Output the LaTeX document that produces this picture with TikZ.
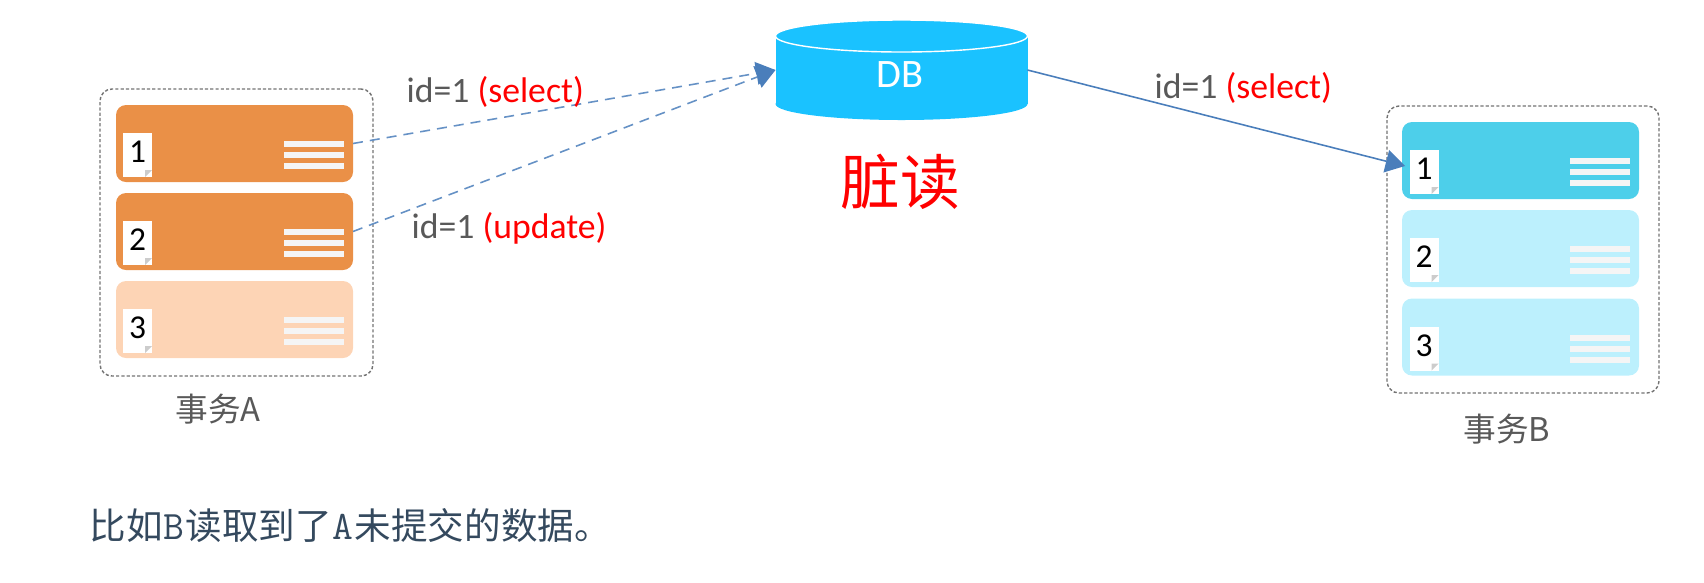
\documentclass[tikz,border=0pt]{standalone}
\usepackage{fontspec}
\setmainfont{Carlito}
\newfontfamily\cjk{Noto Sans CJK SC}
\usepackage{tikz}
\usetikzlibrary{positioning,calc,arrows.meta,shapes.geometric}
\usepackage{xcolor}
\definecolor{cardA}{HTML}{EA9047}
\definecolor{cardAlt}{HTML}{FDD4B5}
\definecolor{cardB}{HTML}{4DCFEA}
\definecolor{cardBlt}{HTML}{BCF0FD}
\definecolor{dbblue}{HTML}{1AC2FF}
\definecolor{linkblue}{HTML}{4A7EBB}
\definecolor{txtgrey}{HTML}{595959}
\definecolor{txtnavy}{HTML}{34495E}
\newcommand{\footlat}[1]{\kern.3pt{\ttfamily\fontsize{11.5}{12}\selectfont #1}\kern.3pt}

\begin{document}
\begin{tikzpicture}[
  >={Triangle[length=5.5pt,width=6.5pt,color=linkblue]},
  card/.style={rounded corners=1mm, minimum width=23.7mm, minimum height=7.7mm, inner sep=0pt, outer sep=0pt},
  txbox/.style={draw=black!55, rounded corners=1.2mm, line width=.4pt, dash pattern=on .9pt off .6pt,
                minimum width=27.3mm, minimum height=28.7mm, inner sep=0pt},
  notepg/.style={fill=white, minimum width=2.9mm, minimum height=4.4mm, inner sep=0pt, text=black,
                 text depth=.6mm, font=\fontsize{9.5}{12}\selectfont,
                 path picture={\fill[black!20] ($(path picture bounding box.south east)+(-.7mm,0)$) --
                   ($(path picture bounding box.south east)+(0,.7mm)$) --
                   ($(path picture bounding box.south east)+(-.7mm,.7mm)$) -- cycle;}},
  bars/.style={minimum width=6mm, minimum height=2.8mm, inner sep=0pt,
               path picture={
                 \fill[black!4] (path picture bounding box.north west) rectangle +(6mm,-.6mm);
                 \fill[black!4] ($(path picture bounding box.west)+(0,.3mm)$) rectangle +(6mm,-.6mm);
                 \fill[black!4] (path picture bounding box.south west) rectangle +(6mm,.6mm);}},
  lbl/.style={text=txtgrey, font=\fontsize{10.15}{12}\selectfont, inner sep=0pt},
  caplbl/.style={text=txtgrey, font=\cjk\fontsize{9.3}{11}\selectfont, inner sep=0pt},
  fl/.style={->, linkblue, line width=.45pt},
  fldash/.style={fl, linkblue!85, dash pattern=on 2.85pt off 2pt},
]
  \useasboundingbox (0,0) rectangle (17.04,5.82);

  %=================== transaction A ===================
  \node[txbox] (boxa) at (2.365,3.495) {};
  \node[card, fill=cardA] (a1) at (2.345,4.385) {};
  \node[card, fill=cardA] (a2) at (2.345,3.505) {};
  \node[card, fill=cardAlt] (a3) at (2.345,2.625) {};
  \node[notepg] (a1pg) at ($(a1)+(-.97,-.115)$) {1};
  \node[notepg] (a2pg) at ($(a2)+(-.97,-.115)$) {2};
  \node[notepg] (a3pg) at ($(a3)+(-.97,-.115)$) {3};
  \node[bars] (a1bar) at ($(a1)+(.795,-.115)$) {};
  \node[bars] (a2bar) at ($(a2)+(.795,-.115)$) {};
  \node[bars] (a3bar) at ($(a3)+(.795,-.115)$) {};
  \node[caplbl] (capa) at (2.18,1.73) {事务A};

  %=================== transaction B ===================
  \node[txbox, minimum width=27.2mm] (boxb) at (15.23,3.325) {};
  \node[card, fill=cardB] (b1) at (15.205,4.215) {};
  \node[card, fill=cardBlt] (b2) at (15.205,3.335) {};
  \node[card, fill=cardBlt] (b3) at (15.205,2.45) {};
  \node[notepg] (b1pg) at ($(b1)+(-.965,-.115)$) {1};
  \node[notepg] (b2pg) at ($(b2)+(-.965,-.115)$) {2};
  \node[notepg] (b3pg) at ($(b3)+(-.965,-.115)$) {3};
  \node[bars] (b1bar) at ($(b1)+(.795,-.115)$) {};
  \node[bars] (b2bar) at ($(b2)+(.795,-.115)$) {};
  \node[bars] (b3bar) at ($(b3)+(.795,-.115)$) {};
  \node[caplbl] (capb) at (15.07,1.53) {事务B};

  %=================== database ===================
  \node[ellipse, fill=dbblue, minimum width=25.2mm, minimum height=3.2mm, inner sep=0pt] (dbbot) at (9.015,4.78) {};
  \node[fill=dbblue, minimum width=25.2mm, minimum height=6.8mm, inner sep=0pt, outer sep=0pt] (db) at (9.015,5.12) {};
  \node[ellipse, fill=dbblue, draw=white, line width=.4pt, minimum width=25.2mm, minimum height=3.2mm, inner sep=0pt] (dbtop) at (9.015,5.46) {};
  \node[text=white, font=\fontsize{11.5}{13}\selectfont, inner sep=0pt] (dblbl) at (9.0,5.07) {DB};
  \node[text=red, font=\cjk\fontsize{17}{20}\selectfont, inner sep=0pt] (title) at (9.0,4.0) {脏读};

  %=================== links ===================
  \coordinate (b1tip) at (14.05,4.16);
  \draw[fldash] (a1.east) -- (db.west);
  \draw[fldash] (a2.east) -- (db.west);
  \draw[fl] (db.east) -- (b1tip);
  \node[lbl, anchor=west] (sel1) at (4.06,4.90) {id=1 \textcolor{red}{(select)}};
  \node[lbl, anchor=west] (upd1) at (4.11,3.54) {id=1 \textcolor{red}{(update)}};
  \node[lbl, anchor=west] (sel2) at (11.54,4.94) {id=1 \textcolor{red}{(select)}};

  %=================== footer ===================
  \node[anchor=west, text=txtnavy, font=\cjk\fontsize{10.4}{12}\selectfont, inner sep=0pt] (foot) at (.89,.56)
       {比如\footlat{B}读取到了\footlat{A}未提交的数据。};
\end{tikzpicture}
\end{document}
